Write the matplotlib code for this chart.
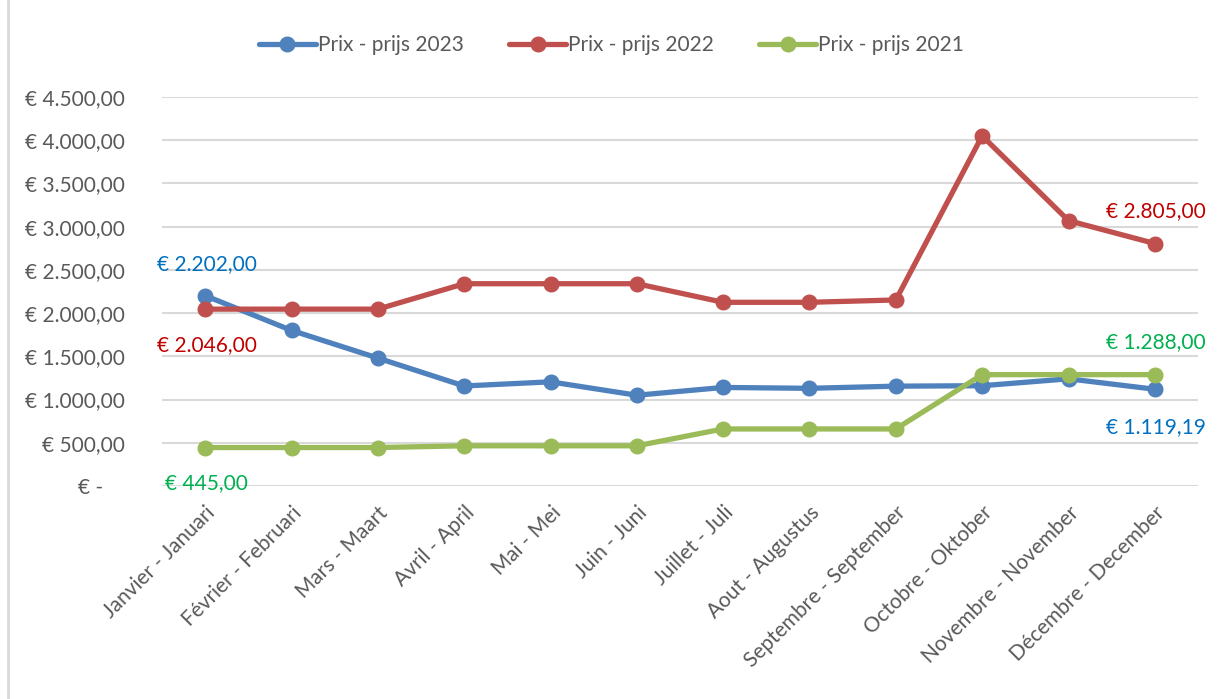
import matplotlib.pyplot as plt
import matplotlib.lines as mlines
import numpy as np

plt.rcParams['font.family'] = ['Lato', 'DejaVu Sans']

months = ["Janvier - Januari", "Février - Februari", "Mars - Maart", "Avril - April",
          "Mai - Mei", "Juin - Juni", "Juillet - Juli", "Aout - Augustus",
          "Septembre - September", "Octobre - Oktober", "Novembre - November",
          "Décembre - December"]
prix_2023 = [2202, 1800, 1480, 1157, 1205, 1050, 1140, 1130, 1155, 1160, 1240, 1119.19]
prix_2022 = [2046, 2046, 2046, 2340, 2340, 2340, 2125, 2125, 2152, 4050, 3070, 2805]
prix_2021 = [445, 445, 445, 465, 465, 465, 660, 660, 660, 1288, 1288, 1288]
yticks = [0, 500, 1000, 1500, 2000, 2500, 3000, 3500, 4000, 4500]

def euro(v):
    if v == 0:
        return "€ -    "
    s = f"{v:,.2f}".replace(",", "X").replace(".", ",").replace("X", ".")
    return "€ " + s

blue, red, green = "#4F81BD", "#C0504D", "#9BBB59"
txt = "#595959"
fs = 15

fig = plt.figure(figsize=(12.23, 6.99), dpi=100)
ax = fig.add_axes([162/1223, 1 - 486/699, (1198-162)/1223, (486-97)/699])

x = np.arange(len(months))
for vals, col, lab in [(prix_2023, blue, "Prix - prijs 2023"),
                       (prix_2022, red, "Prix - prijs 2022"),
                       (prix_2021, green, "Prix - prijs 2021")]:
    ax.plot(x, vals, color=col, lw=3.8, marker="o", ms=10.5, label=lab,
            solid_capstyle="round", zorder=3)

ax.set_xlim(-0.5, 11.5)
ax.set_ylim(0, 4500)
ax.set_yticks(yticks)
ax.set_yticklabels([euro(v) for v in yticks])
ax.yaxis.grid(True, color="#D9D9D9", lw=1.5, zorder=0)
ax.tick_params(axis="y", length=0, pad=27, labelsize=fs, labelcolor=txt)
ax.set_xticks(x)
ax.set_xticklabels(months, rotation=45, ha="right", rotation_mode="anchor",
                   fontsize=fs, color=txt)
ax.tick_params(axis="x", length=0, pad=12)
for s in ax.spines.values():
    s.set_visible(False)

# data labels
ax.annotate(euro(prix_2023[0]), (0, prix_2023[0]), xytext=(-48, 32), textcoords="offset pixels",
            color="#0070C0", fontsize=fs, va="center")
ax.annotate(euro(prix_2022[0]), (0, prix_2022[0]), xytext=(-48, -36), textcoords="offset pixels",
            color="#C00000", fontsize=fs, va="center")
ax.annotate(euro(prix_2021[0]), (0, prix_2021[0]), xytext=(-40, -36), textcoords="offset pixels",
            color="#00B050", fontsize=fs, va="center")
ax.annotate(euro(prix_2022[-1]), (11, prix_2022[-1]), xytext=(-49, 32), textcoords="offset pixels",
            color="#C00000", fontsize=fs, va="center")
ax.annotate(euro(prix_2021[-1]), (11, prix_2021[-1]), xytext=(-49, 33), textcoords="offset pixels",
            color="#00B050", fontsize=fs, va="center")
ax.annotate(euro(prix_2023[-1]), (11, prix_2023[-1]), xytext=(-49, -38), textcoords="offset pixels",
            color="#0070C0", fontsize=fs, va="center")

leg = fig.legend(loc="center", bbox_to_anchor=(0.5, 1 - 45/699), ncol=3, frameon=False,
                 fontsize=fs, labelcolor=txt, handlelength=2.7, columnspacing=2.2,
                 handletextpad=0.1)

fig.add_artist(mlines.Line2D([8/1223, 8/1223], [0, 1], color="#D9D9D9", lw=2))

fig.savefig("out.png", dpi=100)
